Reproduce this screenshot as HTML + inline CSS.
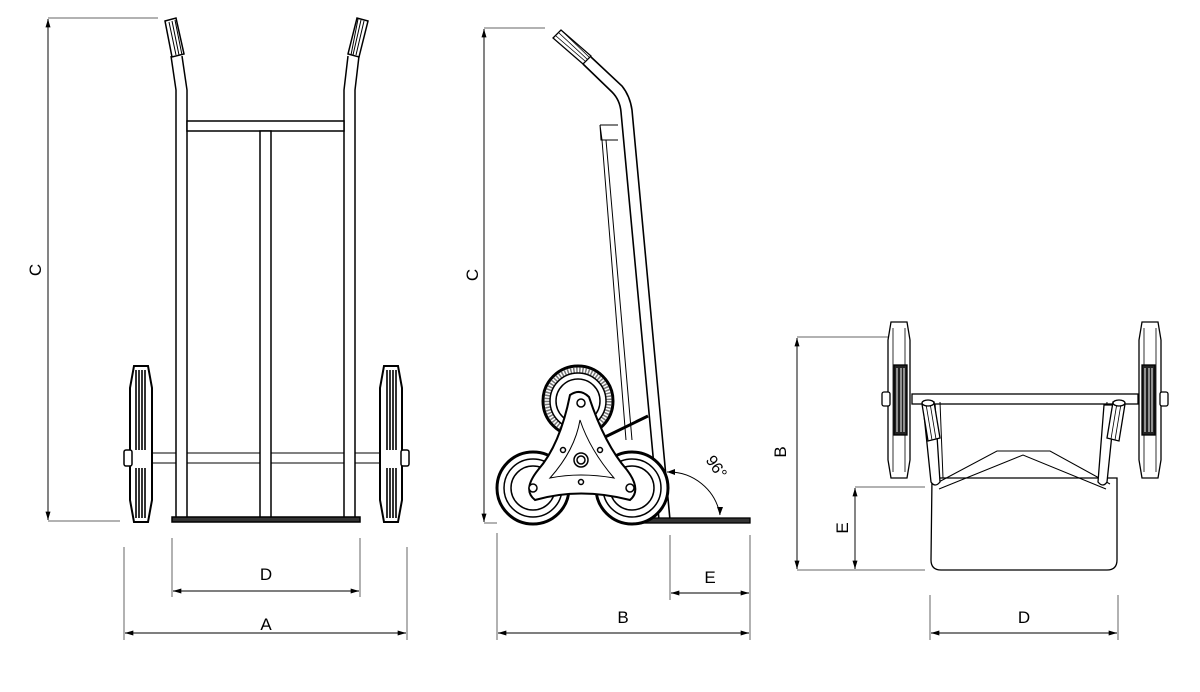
<!DOCTYPE html>
<html><head><meta charset="utf-8"><style>html,body{margin:0;padding:0;background:#fff}svg{display:block}</style></head>
<body>
<svg width="1200" height="692" viewBox="0 0 1200 692" xmlns="http://www.w3.org/2000/svg" font-family="Liberation Sans, sans-serif">
<defs>
<marker id="a" viewBox="0 0 10 6" refX="10" refY="3" markerWidth="14" markerHeight="5" markerUnits="userSpaceOnUse" orient="auto-start-reverse"><path d="M0,0 L10,3 L0,6 Z" fill="#000"/></marker>
</defs>
<g stroke="#666" stroke-width="1" fill="none">
  <line x1="48" y1="18" x2="158" y2="18"/><line x1="48" y1="521" x2="120" y2="521"/>
  <line x1="172" y1="538" x2="172" y2="597"/><line x1="360" y1="538" x2="360" y2="597"/>
  <line x1="124" y1="547" x2="124" y2="640"/><line x1="407" y1="547" x2="407" y2="640"/>
  <line x1="484" y1="28" x2="545" y2="28"/><line x1="484" y1="523" x2="497" y2="523"/>
  <line x1="497" y1="533" x2="497" y2="640"/><line x1="750" y1="535" x2="750" y2="640"/>
  <line x1="670" y1="535" x2="670" y2="600"/>
  <line x1="797" y1="337" x2="898" y2="337"/><line x1="797" y1="570" x2="925" y2="570"/>
  <line x1="855" y1="487" x2="925" y2="487"/>
  <line x1="930" y1="595" x2="930" y2="640"/><line x1="1118" y1="595" x2="1118" y2="640"/>
</g>
<g stroke="#333" stroke-width="1.2" fill="none" marker-start="url(#a)" marker-end="url(#a)">
  <line x1="48" y1="19" x2="48" y2="520"/>
  <line x1="173" y1="591" x2="359" y2="591"/>
  <line x1="125" y1="633" x2="406" y2="633"/>
  <line x1="484" y1="29" x2="484" y2="522"/>
  <line x1="498" y1="633" x2="749" y2="633"/>
  <line x1="671" y1="593" x2="749" y2="593"/>
  <line x1="797" y1="338" x2="797" y2="569"/>
  <line x1="855" y1="488" x2="855" y2="569"/>
  <line x1="931" y1="633" x2="1117" y2="633"/>
</g>
<g font-size="17" fill="#000" text-anchor="middle">
  <text x="266" y="580">D</text>
  <text x="266" y="630">A</text>
  <text x="623" y="623">B</text>
  <text x="710" y="583">E</text>
  <text x="1024" y="623">D</text>
  <text transform="translate(41,270) rotate(-90)">C</text>
  <text transform="translate(478,275) rotate(-90)">C</text>
  <text transform="translate(786,452) rotate(-90)">B</text>
  <text transform="translate(848,528) rotate(-90)">E</text>
  <text transform="translate(712,470) rotate(55)" font-size="16">96°</text>
</g>

<!-- FRONT VIEW -->
<g stroke="#000" stroke-width="1.5" fill="#fff">
  <path d="M171,56 L176,90 L176,518 M182,56 L187,90 L187,518" fill="none"/>
  <path d="M359,56 L355,90 L355,518 M348,56 L344,90 L344,518" fill="none"/>
  <rect x="187" y="121" width="157" height="10"/>
  <rect x="260" y="131" width="11" height="387"/>
  <path d="M152,453 H176 M187,453 H260 M271,453 H344 M355,453 H380 M152,463 H176 M187,463 H260 M271,463 H344 M355,463 H380" stroke-width="1"/>
  <rect x="172" y="517" width="188" height="5" fill="#333"/>
  <path d="M165,21 L176,18 L184,54 L172,57 Z"/>
  <path d="M368,21 L357,18 L348,54 L359,57 Z"/>
  <path d="M169,22 L176,55 M172,21 L179,55 M175,20 L182,55 M364,21 L356,55 M361,20 L353,55 M358,19 L351,55" stroke-width="1"/>
  <path d="M134,366 H148 L152,388 V500 L148,522 H134 L130,500 V388 Z" stroke-width="2"/>
  <path d="M136,370 V450 M139,370 V450 M142,370 V450 M145,370 V450 M136,468 V518 M139,468 V518 M142,468 V518 M145,468 V518" stroke-width="1.6"/>
  <rect x="124" y="450" width="8" height="16" rx="2"/>
  <path d="M384,366 H398 L402,388 V500 L398,522 H384 L380,500 V388 Z" stroke-width="2"/>
  <path d="M387,370 V450 M390,370 V450 M393,370 V450 M396,370 V450 M387,468 V518 M390,468 V518 M393,468 V518 M396,468 V518" stroke-width="1.6"/>
  <rect x="401" y="450" width="8" height="16" rx="2"/>
</g>

<!-- SIDE VIEW -->
<g stroke="#000" stroke-width="1.3" fill="none">
  <path d="M600,125 H618 M600,125 L602,140 M606,140 L632,440 M602,140 L626,440 M600,125 L601,140 H618" stroke-width="1"/>
  <path d="M583,64 L612,92 Q620,100 621,112 L659,520" stroke-width="1.6"/>
  <path d="M591,57 L622,86 Q630,96 632,110 L670,520" stroke-width="1.6"/>
  <path d="M605,437 L648,416" stroke-width="3"/>
  <rect x="640" y="518" width="110" height="5" fill="#333"/>
  <g fill="#fff">
    <path d="M553,38 L561,30 L591,56 L583,64 Z"/>
  </g>
  <path d="M556,36 L585,61 M559,33 L587,59 M562,31 L589,57" stroke-width="0.8"/>
  <g fill="#fff" stroke-width="1.5">
    <circle cx="578" cy="401" r="35" stroke-width="3"/><circle cx="578" cy="401" r="31" stroke="#777" stroke-width="5" stroke-dasharray="1.5 1.5"/><circle cx="578" cy="401" r="28"/><circle cx="578" cy="401" r="22"/>
    <circle cx="533" cy="488" r="36" stroke-width="3"/><circle cx="533" cy="488" r="29"/><circle cx="533" cy="488" r="22"/>
    <circle cx="632" cy="488" r="36" stroke-width="3"/><circle cx="632" cy="488" r="29"/><circle cx="632" cy="488" r="22"/>
    <path d="M570,395 Q580,388 589,397 Q605,445 627,470 Q642,490 630,500 Q580,487 535,500 Q522,490 538,470 Q560,445 570,395 Z" stroke-width="2"/>
    <path d="M580,420 Q590,450 614,478 Q580,472 550,478 Q575,450 580,420 Z" stroke-width="1"/>
    <circle cx="581" cy="460" r="7"/><circle cx="581" cy="460" r="4"/>
    <circle cx="581" cy="403" r="4"/><circle cx="533" cy="488" r="4"/><circle cx="630" cy="488" r="4"/>
    <circle cx="563" cy="450" r="2.5"/><circle cx="600" cy="450" r="2.5"/><circle cx="581" cy="482" r="2.5"/>
  </g>
  <path d="M667,472 A52,52 0 0 1 720,515" stroke-width="1"/>
  <path d="M667,472 l8,-3 l0,6 Z M720,515 l-3,-8 l6,0 Z" fill="#000" stroke="none"/>
</g>

<!-- TOP VIEW -->
<g stroke="#000" stroke-width="1.3" fill="#fff">
  <path d="M932,478 H1117 V560 Q1117,570 1107,570 H941 Q931,570 931,560 Z"/>
  <rect x="912" y="394" width="226" height="10"/>
  <path d="M935,484 L997,451 L1050,451 L1110,484 M939,489 L1023,455 L1106,489" fill="none" stroke-width="1"/>
  <path d="M940,402 L943,478 M1107,402 L1102,478" fill="none" stroke-width="1"/>
  <path d="M923,405 L931,482 Q935,488 940,482 L935,405 Z"/>
  <path d="M1115,405 L1107,482 Q1103,488 1098,482 L1104,405 Z"/>
  <path d="M922,404 L934,402 L940,438 L928,441 Z"/>
  <path d="M926,404 L932,440 M930,403 L936,439" stroke-width="0.8"/>
  <ellipse cx="928" cy="403" rx="6" ry="3"/>
  <path d="M1125,404 L1113,402 L1107,438 L1119,441 Z"/>
  <path d="M1121,404 L1115,440 M1117,403 L1111,439" stroke-width="0.8"/>
  <ellipse cx="1119" cy="403" rx="6" ry="3"/>
  <path d="M891,322 H907 L910,340 V460 L907,478 H891 L888,460 V340 Z"/>
  <path d="M893,328 V472 M905,328 V472" stroke-width="0.8"/>
  <rect x="894" y="365" width="13" height="70" fill="#222"/>
  <path d="M897,368 V432 M901,368 V432 M904,368 V432" stroke="#fff" stroke-width="1"/>
  <rect x="882" y="392" width="8" height="14" rx="2"/>
  <path d="M1142,322 H1158 L1161,340 V460 L1158,478 H1142 L1139,460 V340 Z"/>
  <path d="M1144,328 V472 M1156,328 V472" stroke-width="0.8"/>
  <rect x="1142" y="365" width="13" height="70" fill="#222"/>
  <path d="M1145,368 V432 M1149,368 V432 M1152,368 V432" stroke="#fff" stroke-width="1"/>
  <rect x="1160" y="392" width="8" height="14" rx="2"/>
</g>
</svg>
</body></html>
